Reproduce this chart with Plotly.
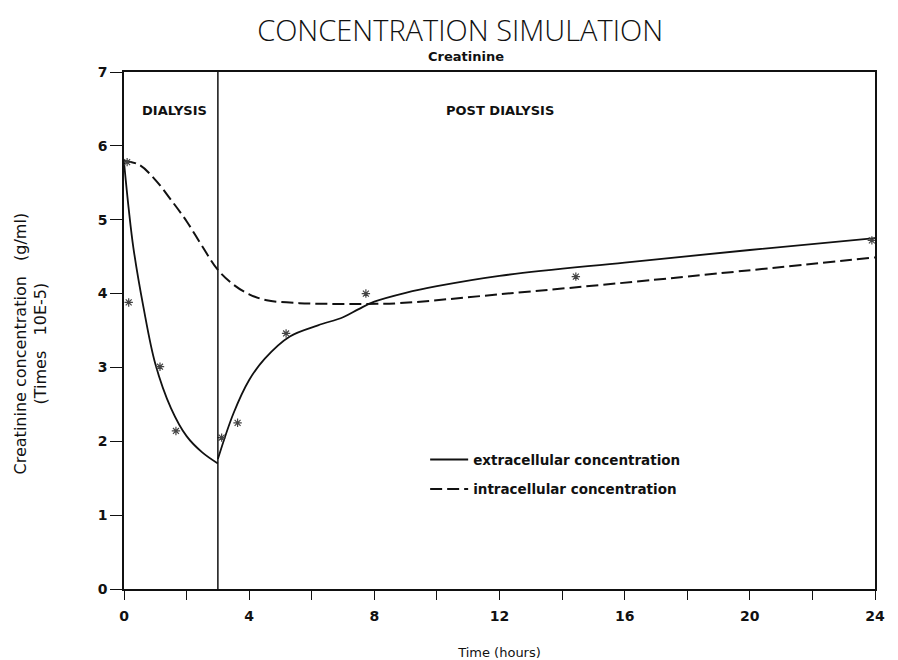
import plotly.graph_objects as go

# ---- data ----
DIALYSIS_END = 3.0

extra_dial_t = [0.0, 0.15, 0.3, 0.62, 1.0, 1.5, 2.0, 2.5, 3.0]
extra_dial_v = [5.78, 5.15, 4.62, 3.82, 3.05, 2.45, 2.07, 1.85, 1.70]

extra_post_t = [3.0, 3.5, 4.0, 4.5, 5.3, 6.2, 7.0, 7.5, 8.0, 9.0, 10.0, 12.0, 16.0, 20.0, 24.0]
extra_post_v = [1.76, 2.38, 2.83, 3.12, 3.42, 3.57, 3.68, 3.79, 3.89, 4.01, 4.10, 4.24, 4.42, 4.59, 4.75]

intra_t = [0.0, 0.5, 1.0, 1.5, 2.0, 2.5, 3.0, 3.5, 4.0, 4.56, 5.6, 6.7, 7.75, 8.8, 12.0, 16.8, 24.0]
intra_v = [5.80, 5.74, 5.54, 5.27, 4.98, 4.64, 4.32, 4.12, 3.99, 3.91, 3.87, 3.86, 3.86, 3.87, 3.99, 4.18, 4.49]

meas_t = [0.1, 0.15, 1.15, 1.66, 3.12, 3.63, 5.18, 7.73, 14.44, 23.9]
meas_v = [5.78, 3.88, 3.01, 2.14, 2.05, 2.25, 3.46, 4.00, 4.23, 4.72]

x_tickvals = list(range(0, 25, 2))
x_ticktext = [str(v) if v % 4 == 0 else "" for v in x_tickvals]
y_tickvals = list(range(0, 8))

FONT = "'DejaVu Sans', sans-serif"
BLACK = "#111111"

fig = go.Figure()

fig.add_trace(go.Scatter(
    x=extra_dial_t, y=extra_dial_v, mode="lines", line=dict(color=BLACK, width=1.8, shape="spline"),
    name="extracellular concentration", legendgroup="extra", showlegend=True))
fig.add_trace(go.Scatter(
    x=extra_post_t, y=extra_post_v, mode="lines", line=dict(color=BLACK, width=1.8, shape="spline"),
    name="extracellular concentration", legendgroup="extra", showlegend=False))
fig.add_trace(go.Scatter(
    x=intra_t, y=intra_v, mode="lines", line=dict(color=BLACK, width=2, shape="spline", dash="12px,5px"),
    name="intracellular concentration", legendgroup="intra", showlegend=True))
fig.add_trace(go.Scatter(
    x=meas_t, y=meas_v, mode="markers",
    marker=dict(symbol="asterisk-open", size=7, color="#444444", line=dict(color="#444444", width=1.2)),
    showlegend=False))

# dialysis end line
fig.add_shape(type="line", xref="x", yref="y", x0=DIALYSIS_END, x1=DIALYSIS_END, y0=0, y1=7,
              line=dict(color=BLACK, width=1.5))

fig.add_annotation(x=DIALYSIS_END / 2 + 0.1, y=6.48, xref="x", yref="y", text="DIALYSIS", showarrow=False,
                   font=dict(family=FONT, size=13, color=BLACK, weight="bold"))
fig.add_annotation(x=12, y=6.48, xref="x", yref="y", text="POST DIALYSIS", showarrow=False,
                   font=dict(family=FONT, size=13, color=BLACK, weight="bold"))
fig.add_annotation(x=0.455, y=1, xref="paper", yref="paper", yanchor="bottom", yshift=6, text="Creatinine",
                   showarrow=False, font=dict(family=FONT, size=13, color=BLACK, weight="bold"))
# y-axis title (two lines, rotated)
fig.add_annotation(x=0, y=0.475, xref="paper", yref="paper", xanchor="center", yanchor="middle", xshift=-93,
                   text="Creatinine concentration&nbsp;&nbsp;&nbsp;(g/ml)<br>(Times&nbsp;&nbsp;&nbsp;10E-5)",
                   textangle=-90, showarrow=False, align="center",
                   font=dict(family=FONT, size=16, color=BLACK))

# page body has an 8px margin: figure is sized/offset to compensate
fig.update_layout(
    width=890, height=652,
    margin=dict(l=116, r=23, t=64, b=71, autoexpand=False),
    paper_bgcolor="white", plot_bgcolor="white",
    title=dict(text="CONCENTRATION SIMULATION", x=0.508, xanchor="center", y=0.965, yanchor="middle",
               font=dict(family="'Open Sans', sans-serif", size=29, color=BLACK, weight=300)),
    showlegend=True,
    legend=dict(x=0.401, y=0.280, xanchor="left", yanchor="top", bgcolor="rgba(0,0,0,0)",
                font=dict(family=FONT, size=13.5, color=BLACK, weight="bold"), traceorder="grouped",
                tracegroupgap=9, itemwidth=38),
    font=dict(family=FONT, color=BLACK),
)

fig.update_xaxes(range=[0, 24], tickvals=x_tickvals, ticktext=x_ticktext, ticks="outside", ticklen=9,
                 tickwidth=1.3, tickcolor=BLACK, showline=True, linecolor=BLACK, linewidth=1.5, mirror=True,
                 showgrid=False, zeroline=False, tickfont=dict(family=FONT, size=14, color=BLACK, weight="bold"),
                 ticklabelstandoff=4, automargin=False,
                 title=dict(text="Time (hours)", font=dict(family=FONT, size=13, color=BLACK), standoff=26))
fig.update_yaxes(range=[0, 7], tickvals=y_tickvals, ticks="outside", ticklen=12, tickwidth=1.3, tickcolor=BLACK,
                 showline=True, linecolor=BLACK, linewidth=1.5, mirror=True, showgrid=False, zeroline=False,
                 automargin=False, tickfont=dict(family=FONT, size=14, color=BLACK, weight="bold"))

fig.write_html("out.html")
